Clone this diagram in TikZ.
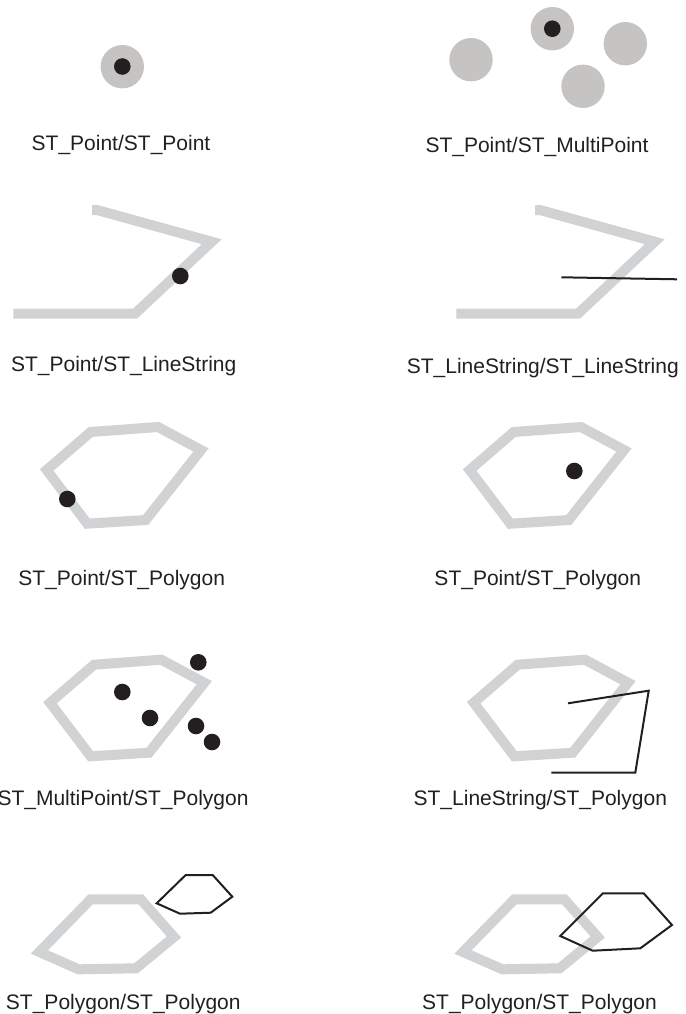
\documentclass[tikz,border=0pt]{standalone}
\usepackage{fontspec}
\setmainfont{Liberation Sans}
\definecolor{ink}{RGB}{35,31,32}
\definecolor{disc}{RGB}{197,196,194}
\definecolor{band}{RGB}{209,210,212}
\begin{document}
\begin{tikzpicture}[x=1pt,y=-1pt,
  lbl/.style={anchor=base,inner sep=0pt,text=ink,font=\fontsize{21}{25}\selectfont},
  graydisc/.style={fill=disc},
  dot/.style={fill=ink},
  thick band/.style={draw=band,line width=10pt,line join=miter,miter limit=10},
  blackline/.style={draw=ink,line width=2pt,line join=miter}]
\useasboundingbox (0,0) rectangle (685,1014);
% Row 1
\fill[graydisc] (122.3,66.7) circle (21.7);
\fill[dot] (122.3,66.5) circle (8.3);
\node[lbl] (l1) at (121,150.8) {ST\_Point/ST\_Point};
\fill[graydisc] (471,59.7) circle (21.7);
\fill[graydisc] (552.3,28.7) circle (21.7);
\fill[graydisc] (625.3,43.7) circle (21.7);
\fill[graydisc] (583,86.3) circle (21.7);
\fill[dot] (552.3,28.7) circle (8.3);
\node[lbl] (r1) at (537,152.8) {ST\_Point/ST\_MultiPoint};
% Row 2
\draw[thick band] (92,210) -- (97,210) -- (211.7,241.7) -- (135,313.7) -- (13.3,313.7);
\fill[dot] (180.3,276) circle (8.3);
\node[lbl] (l2) at (123.7,371) {ST\_Point/ST\_LineString};
\draw[thick band] (535,210) -- (540,210) -- (654.7,241.7) -- (578,313.7) -- (456.3,313.7);
\draw[blackline] (561.3,277.3) -- (677,279.3);
\node[lbl] (r2) at (542.8,373) {ST\_LineString/ST\_LineString};
% Row 3
\draw[thick band] (90.7,432) -- (158,427) -- (201,450) -- (145.7,520) -- (87.3,523.7) -- (46.7,470) -- cycle;
\fill[dot] (67.3,499) circle (8.3);
\node[lbl] (l3) at (121.7,585.2) {ST\_Point/ST\_Polygon};
\draw[thick band] (513.7,432) -- (581,427) -- (624,450) -- (568.7,520) -- (510.3,523.7) -- (469.7,470) -- cycle;
\fill[dot] (574.3,471) circle (8.3);
\node[lbl] (r3) at (537.8,585.8) {ST\_Point/ST\_Polygon};
% Row 4
\draw[thick band] (94,664.7) -- (161.3,659.7) -- (204.3,682.7) -- (149,752.7) -- (90.7,756.3) -- (50,702.7) -- cycle;
\fill[dot] (198.3,662.3) circle (8.3);
\fill[dot] (122.3,692) circle (8.3);
\fill[dot] (150,718) circle (8.3);
\fill[dot] (196,726) circle (8.3);
\fill[dot] (212,742) circle (8.3);
\node[lbl] (l4) at (123,805.8) {ST\_MultiPoint/ST\_Polygon};
\draw[thick band] (517.7,664.7) -- (585,659.7) -- (628,682.7) -- (572.7,752.7) -- (514.3,756.3) -- (473.7,702.7) -- cycle;
\draw[blackline] (568,703.3) -- (648.7,690.7) -- (635.3,772.7) -- (551.3,772.7);
\node[lbl] (r4) at (540.3,805.2) {ST\_LineString/ST\_Polygon};
% Row 5
\draw[thick band] (90.7,899.3) -- (140.7,899.3) -- (174,937) -- (136,968.3) -- (78.7,969.3) -- (39.3,952) -- cycle;
\draw[blackline] (185.7,875) -- (212.7,875) -- (232.3,896.7) -- (210.7,912.7) -- (180,913.7) -- (156.7,903.3) -- cycle;
\node[lbl] (l5) at (123.3,1009.2) {ST\_Polygon/ST\_Polygon};
\draw[thick band] (514.4,899.3) -- (564.4,899.3) -- (597.7,937) -- (559.7,968.3) -- (502.4,969.3) -- (463,952) -- cycle;
\draw[blackline] (603,893.3) -- (643.7,893.3) -- (672,925) -- (640.3,948.3) -- (592.7,950.7) -- (560.3,936) -- cycle;
\node[lbl] (r5) at (539.5,1009.2) {ST\_Polygon/ST\_Polygon};
\end{tikzpicture}
\end{document}
